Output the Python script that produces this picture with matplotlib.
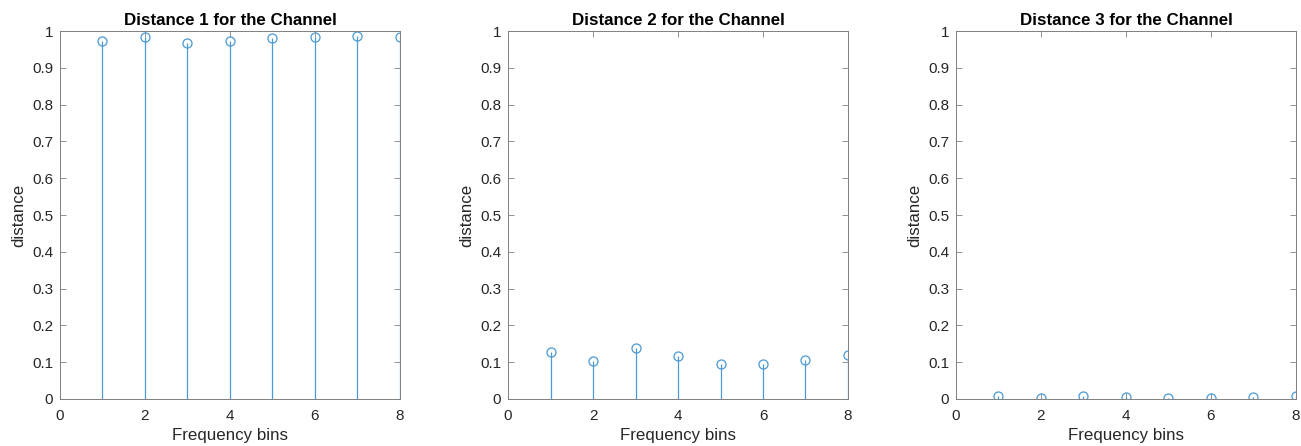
import matplotlib.pyplot as plt
import numpy as np

plt.rcParams['font.family'] = ['Liberation Sans', 'DejaVu Sans']

bins = [1, 2, 3, 4, 5, 6, 7, 8]
dist1 = [0.972, 0.983, 0.967, 0.972, 0.981, 0.985, 0.986, 0.985]
dist2 = [0.129, 0.102, 0.139, 0.118, 0.094, 0.095, 0.107, 0.120]
dist3 = [0.007, 0.004, 0.009, 0.005, 0.003, 0.004, 0.005, 0.007]
titles = ["Distance 1 for the Channel", "Distance 2 for the Channel",
          "Distance 3 for the Channel"]
yticks = [0, 0.1, 0.2, 0.3, 0.4, 0.5, 0.6, 0.7, 0.8, 0.9, 1]
ytick_labels = ["0", "0.1", "0.2", "0.3", "0.4", "0.5", "0.6", "0.7", "0.8", "0.9", "1"]
xticks = [0, 2, 4, 6, 8]

stem_color = "#4a9ad6"
text_color = "#262626"
axis_color = "#808080"

fig = plt.figure(figsize=(13.01, 4.46), dpi=100)
lefts = [0.0461, 0.3905, 0.7348]

for left, vals, title in zip(lefts, [dist1, dist2, dist3], titles):
    ax = fig.add_axes([left, 0.1054, 0.2613, 0.825])
    markers, stems, base = ax.stem(bins, vals)
    plt.setp(stems, color=stem_color, linewidth=0.9)
    plt.setp(markers, color=stem_color, markerfacecolor="none",
             markersize=6.5, markeredgewidth=0.9)
    base.set_visible(False)

    ax.set_xlim(0, 8)
    ax.set_ylim(0, 1)
    ax.set_xticks(xticks)
    ax.set_yticks(yticks)
    ax.set_yticklabels(ytick_labels)
    ax.tick_params(direction="in", top=True, right=True, length=4,
                   width=0.6, color=axis_color, labelcolor=text_color,
                   labelsize=11)
    ax.tick_params(axis="x", pad=7)
    ax.tick_params(axis="y", pad=5)
    for sp in ax.spines.values():
        sp.set_color(axis_color)
        sp.set_linewidth(0.7)

    ax.set_title(title, fontsize=12.2, fontweight="bold", color="black", pad=4)
    ax.set_xlabel("Frequency bins", fontsize=12.2, color=text_color, labelpad=4)
    ax.set_ylabel("distance", fontsize=12.2, color=text_color, labelpad=4)

fig.savefig("out.png", dpi=100)
